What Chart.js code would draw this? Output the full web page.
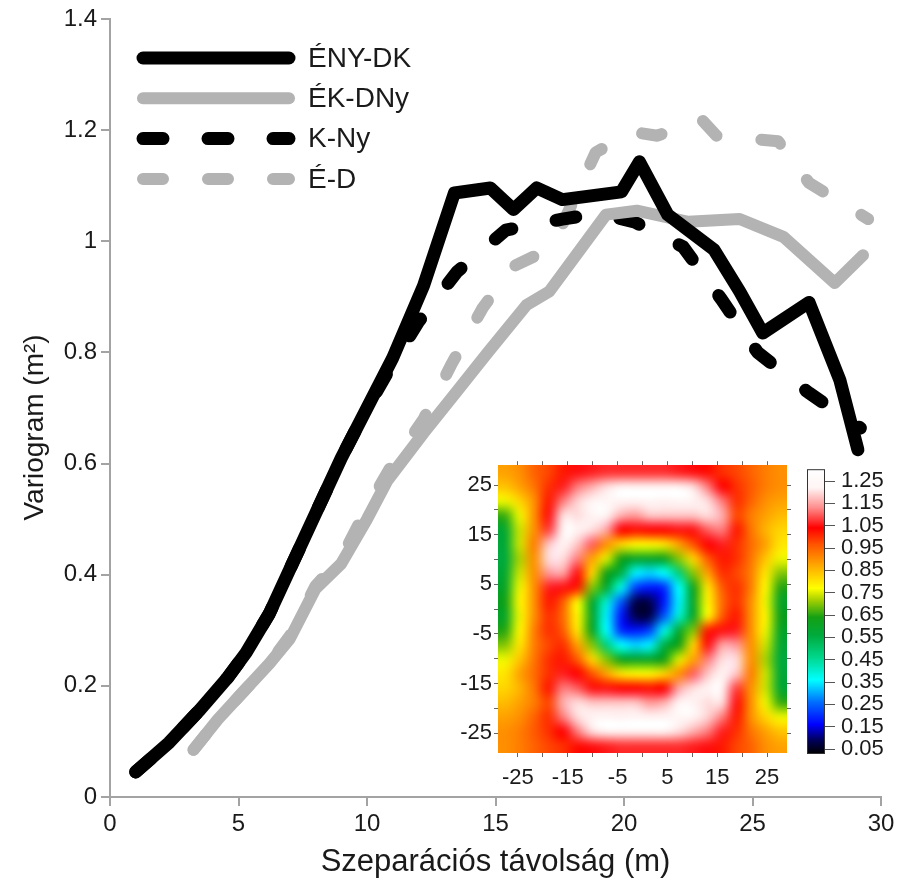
<!DOCTYPE html>
<html>
<head>
<meta charset="utf-8">
<script src="https://cdn.jsdelivr.net/npm/chart.js@4.4.1/dist/chart.umd.min.js"></script>
<style>
  html, body { margin: 0; padding: 0; background: #fff; }
  #wrap { position: relative; width: 901px; height: 893px; }
  #wrap canvas { position: absolute; }
</style>
</head>
<body>
<div id="wrap">
  <canvas id="main" width="901" height="893" style="left:0;top:0"></canvas>
  <canvas id="map" width="360" height="340" style="left:440px;top:450px"></canvas>
  <canvas id="bar" width="101" height="330" style="left:800px;top:450px"></canvas>
</div>
<script>
// --- directional variograms (lag in m, gamma in m2) ---
const lagEnyDk = [1.0, 2.3, 3.5, 4.6, 5.3, 6.2, 7.1, 8.0, 9.0, 10.0, 11.0, 12.2, 13.4, 14.8, 15.7, 16.6, 17.6, 19.9, 20.6, 21.7, 23.5, 24.5, 25.4, 27.2, 28.4, 29.1];
const gamEnyDk = [0.045, 0.098, 0.157, 0.216, 0.26, 0.33, 0.42, 0.51, 0.61, 0.70, 0.79, 0.92, 1.087, 1.096, 1.057, 1.096, 1.075, 1.089, 1.143, 1.048, 0.985, 0.91, 0.835, 0.89, 0.75, 0.625];

const lagEkDny = [3.25, 4.2, 5.2, 6.2, 7.0, 8.0, 9.0, 10.0, 10.8, 12.2, 13.5, 14.7, 16.2, 17.1, 19.3, 20.5, 22.5, 24.5, 26.2, 28.2, 29.3];
const gamEkDny = [0.085, 0.14, 0.19, 0.24, 0.285, 0.375, 0.42, 0.50, 0.57, 0.655, 0.73, 0.80, 0.885, 0.91, 1.048, 1.055, 1.035, 1.04, 1.008, 0.925, 0.975];

const lagKNy = [1.0, 2.3, 3.5, 4.6, 5.3, 6.2, 7.1, 8.0, 9.0, 10.0, 11.0, 12.0, 13.5, 15.4, 17.6, 19.0, 20.4, 22.3, 23.8, 25.2, 27.2, 29.2];
const gamKNy = [0.045, 0.098, 0.157, 0.216, 0.26, 0.33, 0.42, 0.51, 0.61, 0.70, 0.78, 0.855, 0.945, 1.02, 1.04, 1.05, 1.035, 0.99, 0.895, 0.80, 0.727, 0.664];

const lagED = [3.25, 4.2, 5.2, 6.2, 7.0, 8.0, 9.0, 10.0, 11.0, 12.2, 13.3, 14.5, 15.7, 16.6, 17.6, 18.9, 20.3, 21.3, 23.0, 23.6, 26.0, 27.2, 29.5];
const gamED = [0.085, 0.14, 0.19, 0.24, 0.29, 0.38, 0.43, 0.52, 0.60, 0.68, 0.78, 0.88, 0.955, 0.975, 1.03, 1.16, 1.197, 1.19, 1.22, 1.19, 1.18, 1.105, 1.04];

const xTicks = [0, 5, 10, 15, 20, 25, 30];
const yTicks = [0, 0.2, 0.4, 0.6, 0.8, 1, 1.2, 1.4];

// --- variogram map (rows top->bottom, y from +27.55 to -27.55; cols x from -27.55 to +27.55) ---
const mapExtent = [-29, 29];
const mapTicks = [-25, -20, -15, -10, -5, 0, 5, 10, 15, 20, 25];
const mapTickLabels = [-25, -15, -5, 5, 15, 25];
const mapGrid = [
  [0.88,0.9,0.95,0.98,1.02,1.05,1.06,1.07,1.07,1.07, 1.07,1.07,1.06,1.05,1.03,1.0,0.98,0.95,0.92,0.9],
  [0.84,0.88,0.93,1.0,1.06,1.12,1.16,1.2,1.22,1.22, 1.22,1.22,1.22,1.2,1.12,1.04,1.0,0.96,0.92,0.9],
  [0.76,0.82,0.9,1.02,1.12,1.19,1.23,1.24,1.23,1.22, 1.24,1.22,1.24,1.23,1.2,1.12,1.0,0.95,0.9,0.88],
  [0.66,0.76,0.9,1.05,1.2,1.2,1.22,1.22,1.16,1.14, 1.18,1.18,1.18,1.18,1.2,1.16,0.98,0.92,0.88,0.85],
  [0.58,0.74,0.9,1.08,1.22,1.22,1.2,1.15,1.04,1.03, 1.04,1.04,1.05,1.05,1.1,1.12,1.02,0.93,0.86,0.82],
  [0.57,0.74,0.92,1.18,1.22,1.18,1.1,0.9,0.82,0.78, 0.78,0.8,0.88,0.97,1.04,1.06,1.0,0.94,0.88,0.8],
  [0.56,0.72,0.9,1.2,1.2,1.12,0.88,0.75,0.64,0.6, 0.6,0.62,0.7,0.82,0.96,1.02,1.0,0.93,0.84,0.76],
  [0.58,0.74,0.9,1.14,1.15,1.05,0.82,0.64,0.55,0.35, 0.33,0.36,0.48,0.7,0.88,1.0,0.98,0.92,0.8,0.7],
  [0.6,0.76,0.9,1.06,1.05,1.02,0.7,0.58,0.38,0.22, 0.18,0.2,0.36,0.62,0.8,0.96,1.0,0.92,0.78,0.65],
  [0.63,0.78,0.9,1.02,0.96,0.78,0.6,0.4,0.24,0.08, 0.08,0.18,0.35,0.6,0.78,0.94,1.0,0.9,0.76,0.6],
  [0.6,0.76,0.9,1.0,0.94,0.78,0.6,0.35,0.18,0.08, 0.08,0.24,0.4,0.6,0.78,0.96,1.02,0.9,0.78,0.63],
  [0.65,0.78,0.92,1.0,0.96,0.8,0.62,0.36,0.2,0.18, 0.22,0.38,0.58,0.7,1.02,1.05,1.06,0.9,0.76,0.6],
  [0.7,0.8,0.92,0.98,1.0,0.88,0.7,0.48,0.36,0.33, 0.35,0.55,0.64,0.82,1.05,1.15,1.14,0.9,0.74,0.58],
  [0.76,0.84,0.93,1.0,1.02,0.96,0.82,0.7,0.62,0.6, 0.6,0.64,0.75,0.88,1.12,1.2,1.2,0.9,0.72,0.56],
  [0.8,0.88,0.94,1.0,1.06,1.04,0.97,0.88,0.8,0.78, 0.78,0.82,0.9,1.1,1.18,1.22,1.18,0.92,0.74,0.57],
  [0.82,0.86,0.93,1.02,1.12,1.1,1.05,1.05,1.04,1.04, 1.03,1.04,1.15,1.2,1.22,1.22,1.08,0.9,0.74,0.58],
  [0.85,0.88,0.92,0.98,1.16,1.2,1.18,1.18,1.18,1.18, 1.14,1.16,1.22,1.22,1.2,1.2,1.05,0.9,0.76,0.66],
  [0.88,0.9,0.95,1.0,1.12,1.2,1.23,1.24,1.22,1.24, 1.22,1.23,1.24,1.23,1.19,1.12,1.02,0.9,0.82,0.76],
  [0.9,0.92,0.96,1.0,1.04,1.12,1.2,1.22,1.22,1.22, 1.22,1.22,1.2,1.16,1.12,1.06,1.0,0.93,0.88,0.84],
  [0.9,0.92,0.95,0.98,1.0,1.03,1.05,1.06,1.07,1.07, 1.07,1.07,1.07,1.06,1.05,1.02,0.98,0.95,0.9,0.88]
];
const barTicks = [0.05, 0.15, 0.25, 0.35, 0.45, 0.55, 0.65, 0.75, 0.85, 0.95, 1.05, 1.15, 1.25];

// --- styling ---
const INK = '#000000';
const GREY = '#b3b3b3';
const AXIS = '#a3a3a3';
const TEXT = '#1a1a1a';
const FONT = '"Liberation Sans", Arial, sans-serif';
const DASH = [20, 45];

// colour ramp of the map: [value, r, g, b]
const RAMP = [
  [0.03, 0, 0, 0], [0.09, 0, 0, 90], [0.16, 0, 0, 255], [0.26, 0, 110, 255],
  [0.36, 0, 255, 255], [0.46, 0, 215, 140], [0.56, 0, 170, 60], [0.64, 20, 160, 20],
  [0.72, 170, 210, 0], [0.77, 255, 255, 0], [0.87, 255, 170, 0], [0.97, 255, 80, 0],
  [1.04, 255, 0, 0], [1.13, 255, 140, 140], [1.22, 255, 245, 245], [1.30, 255, 255, 255]
];

function rampColor(v) {
  if (v <= RAMP[0][0]) return RAMP[0].slice(1);
  for (let k = 1; k < RAMP.length; k++) {
    const a = RAMP[k - 1], b = RAMP[k];
    if (v <= b[0]) {
      const t = (v - a[0]) / (b[0] - a[0]);
      return [1, 2, 3].map(c => Math.round(a[c] + (b[c] - a[c]) * t));
    }
  }
  return RAMP[RAMP.length - 1].slice(1);
}

Chart.defaults.font.family = FONT;
Chart.defaults.color = TEXT;

function series(label, lags, gammas, color, width, dash) {
  return {
    label: label,
    data: lags.map((d, i) => ({ x: d, y: gammas[i] })),
    borderColor: color,
    borderWidth: width,
    borderDash: dash,
    borderCapStyle: 'round',
    borderJoinStyle: 'round',
    pointRadius: 0,
    tension: 0,
    fill: false
  };
}

// legend drawn as long line samples in the upper-left corner
const lineLegend = {
  id: 'lineLegend',
  afterDatasetsDraw(chart) {
    const ctx = chart.ctx;
    chart.data.datasets.forEach((ds, i) => {
      const y = 58 + i * 40.3;
      ctx.save();
      ctx.strokeStyle = ds.borderColor;
      ctx.lineWidth = ds.borderWidth;
      ctx.lineCap = 'round';
      ctx.setLineDash(ds.borderDash || []);
      ctx.beginPath();
      ctx.moveTo(143, y);
      ctx.lineTo(289, y);
      ctx.stroke();
      ctx.setLineDash([]);
      ctx.fillStyle = TEXT;
      ctx.font = '28px ' + FONT;
      ctx.textBaseline = 'middle';
      ctx.fillText(ds.label, 308, y + 1);
      ctx.restore();
    });
  }
};

const axisGrid = { drawOnChartArea: false, drawTicks: true, tickLength: 9, color: AXIS, lineWidth: 2 };

new Chart(document.getElementById('main'), {
  type: 'line',
  data: {
    datasets: [
      series('ÉNY-DK', lagEnyDk, gamEnyDk, INK, 13, []),
      series('ÉK-DNy', lagEkDny, gamEkDny, GREY, 12, []),
      series('K-Ny', lagKNy, gamKNy, INK, 13, DASH),
      series('É-D', lagED, gamED, GREY, 12, DASH)
    ]
  },
  options: {
    responsive: false,
    animation: false,
    layout: { padding: { left: 0, right: 20, top: 19, bottom: 0 } },
    scales: {
      x: {
        type: 'linear', min: 0, max: 30,
        afterBuildTicks: s => { s.ticks = xTicks.map(v => ({ value: v })); },
        afterFit: s => { s.height = 96; },
        ticks: { font: { size: 24 }, color: TEXT, padding: 4, maxRotation: 0 },
        grid: axisGrid,
        border: { color: AXIS, width: 2 },
        title: { display: true, text: 'Szeparációs távolság (m)', font: { size: 31 }, color: TEXT, padding: { top: 0, bottom: 12 } }
      },
      y: {
        type: 'linear', min: 0, max: 1.4,
        afterBuildTicks: s => { s.ticks = yTicks.map(v => ({ value: v })); },
        afterFit: s => { s.width = 110; },
        ticks: { font: { size: 24 }, color: TEXT, padding: 4, callback: v => String(Math.round(v * 10) / 10) },
        grid: axisGrid,
        border: { color: AXIS, width: 2 },
        // no-break spaces at the end push the centred title a little below the axis middle
        title: { display: true, text: 'Variogram (m²)\u00a0\u00a0\u00a0\u00a0\u00a0', font: { size: 28 }, color: TEXT, padding: { top: 18, bottom: 0 } }
      }
    },
    plugins: { legend: { display: false }, tooltip: { enabled: false } }
  },
  plugins: [lineLegend]
});

// --- inset: variogram map ---
const heatLayer = {
  id: 'heatLayer',
  beforeDatasetsDraw(chart) {
    const { ctx, scales } = chart;
    const rows = mapGrid.length, cols = mapGrid[0].length;
    const off = document.createElement('canvas');
    off.width = cols; off.height = rows;
    const octx = off.getContext('2d');
    const img = octx.createImageData(cols, rows);
    mapGrid.forEach((row, i) => row.forEach((v, j) => {
      const c = rampColor(v), k = (i * cols + j) * 4;
      img.data[k] = c[0]; img.data[k + 1] = c[1]; img.data[k + 2] = c[2]; img.data[k + 3] = 255;
    }));
    octx.putImageData(img, 0, 0);
    const x0 = scales.x.getPixelForValue(mapExtent[0]);
    const x1 = scales.x.getPixelForValue(mapExtent[1]);
    const y0 = scales.y.getPixelForValue(mapExtent[1]);
    const y1 = scales.y.getPixelForValue(mapExtent[0]);
    ctx.save();
    ctx.imageSmoothingEnabled = true;
    ctx.imageSmoothingQuality = 'high';
    ctx.drawImage(off, x0, y0, x1 - x0, y1 - y0);
    ctx.restore();
  }
};

const mapGridOpts = { drawOnChartArea: false, drawTicks: true, tickLength: 4, color: '#666', lineWidth: 1 };
function mapAxis(position, size, showLabels) {
  const horizontal = position === 'top' || position === 'bottom';
  return {
    type: 'linear', position: position, min: mapExtent[0], max: mapExtent[1],
    afterBuildTicks: s => { s.ticks = mapTicks.map(v => ({ value: v })); },
    afterFit: s => { if (horizontal) s.height = size; else s.width = size; },
    ticks: {
      display: showLabels, autoSkip: false, maxRotation: 0,
      font: { size: 22 }, color: TEXT, padding: horizontal ? 8 : 2,
      callback: v => mapTickLabels.includes(v) ? String(v) : ''
    },
    grid: mapGridOpts,
    border: { display: false }
  };
}

new Chart(document.getElementById('map'), {
  type: 'scatter',
  data: { datasets: [] },
  options: {
    responsive: false,
    animation: false,
    layout: { padding: 0 },
    scales: {
      x: mapAxis('bottom', 37, true),
      x2: mapAxis('top', 15, false),
      y: mapAxis('left', 58, true),
      y2: mapAxis('right', 13, false)
    },
    plugins: { legend: { display: false }, tooltip: { enabled: false } }
  },
  plugins: [heatLayer]
});

// --- inset: colour bar ---
const barLayer = {
  id: 'barLayer',
  beforeDatasetsDraw(chart) {
    const { ctx, chartArea: a, scales } = chart;
    ctx.save();
    for (let py = Math.floor(a.top); py < a.bottom; py++) {
      const c = rampColor(scales.y.getValueForPixel(py + 0.5));
      ctx.fillStyle = 'rgb(' + c.join(',') + ')';
      ctx.fillRect(a.left, py, a.right - a.left, 1);
    }
    ctx.strokeStyle = '#333';
    ctx.lineWidth = 1;
    ctx.strokeRect(a.left + 0.5, a.top + 0.5, a.right - a.left - 1, a.bottom - a.top - 1);
    ctx.restore();
  }
};

new Chart(document.getElementById('bar'), {
  type: 'scatter',
  data: { datasets: [] },
  options: {
    responsive: false,
    animation: false,
    layout: { padding: { left: 7, top: 16, bottom: 26, right: 0 } },
    scales: {
      x: { display: false, min: 0, max: 1 },
      y: {
        type: 'linear', position: 'right', min: 0.028, max: 1.303,
        afterBuildTicks: s => { s.ticks = barTicks.map(v => ({ value: v })); },
        afterFit: s => { s.width = 76; },
        ticks: { font: { size: 22 }, color: TEXT, padding: 6, autoSkip: false, callback: v => v.toFixed(2) },
        grid: { drawOnChartArea: false, drawTicks: true, tickLength: 10, color: '#555', lineWidth: 1 },
        border: { display: false }
      }
    },
    plugins: { legend: { display: false }, tooltip: { enabled: false } }
  },
  plugins: [barLayer]
});
</script>
</body>
</html>
